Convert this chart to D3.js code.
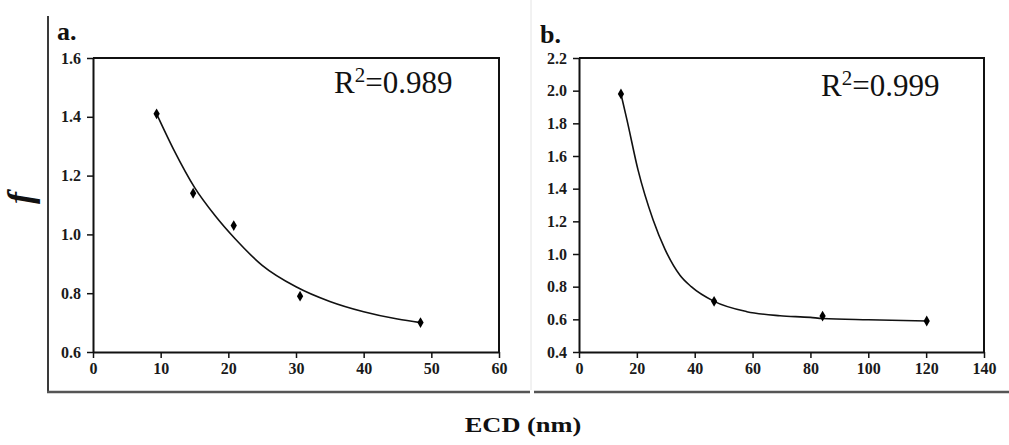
<!DOCTYPE html>
<html>
<head>
<meta charset="utf-8">
<script src="https://cdn.jsdelivr.net/npm/d3@7"></script>
<style>
  html, body { margin: 0; padding: 0; background: #fff; }
  svg { display: block; }
</style>
</head>
<body>
<svg id="chart" width="1009" height="445"></svg>
<script>
// ---- Data ----
const ecdA = [9.4, 14.8, 20.8, 30.6, 48.4];
const fA   = [1.41, 1.14, 1.03, 0.79, 0.70];
const fitAx = [9.4, 12, 15, 18, 21, 25, 30, 35, 40, 45, 48.4];
const fitAy = [1.41, 1.285, 1.16, 1.065, 0.985, 0.895, 0.822, 0.772, 0.737, 0.712, 0.70];
const r2A = "0.989";

const ecdB = [14.5, 46.7, 84.2, 120.2];
const fB   = [1.98, 0.71, 0.62, 0.59];
const fitBx = [14.5, 16.6, 20.4, 25.6, 29.7, 34.9, 38.8, 46.7, 58, 69.5, 80, 84.2, 100, 120.2];
const fitBy = [1.98, 1.82, 1.515, 1.21, 1.03, 0.87, 0.80, 0.71, 0.647, 0.622, 0.612, 0.605, 0.597, 0.59];
const r2B = "0.999";

const xTicksA = [0, 10, 20, 30, 40, 50, 60];
const yTicksA = [0.6, 0.8, 1.0, 1.2, 1.4, 1.6];
const xTicksB = [0, 20, 40, 60, 80, 100, 120, 140];
const yTicksB = [0.4, 0.6, 0.8, 1.0, 1.2, 1.4, 1.6, 1.8, 2.0, 2.2];

const panelLabels = ["a.", "b."];
const xTitle = "ECD (nm)";
const yTitle = "f";

// ---- Drawing ----
const svg = d3.select("#chart");
svg.append("rect").attr("width", 1009).attr("height", 445).attr("fill", "#fff");

const serif = '"Liberation Serif", "Times New Roman", serif';

// outer frame lines
svg.append("line").attr("x1", 531).attr("x2", 531).attr("y1", 0).attr("y2", 390)
  .attr("stroke", "#e4e4e4").attr("stroke-width", 1);
svg.append("line").attr("x1", 48).attr("x2", 48).attr("y1", 16).attr("y2", 393)
  .attr("stroke", "#3a3a3a").attr("stroke-width", 2);
svg.append("line").attr("x1", 47).attr("x2", 530).attr("y1", 392).attr("y2", 392)
  .attr("stroke", "#555").attr("stroke-width", 2.5);
svg.append("line").attr("x1", 534).attr("x2", 1009).attr("y1", 392).attr("y2", 392)
  .attr("stroke", "#555").attr("stroke-width", 2.5);

function panel(cfg) {
  const g = svg.append("g");
  const x = d3.scaleLinear().domain(cfg.xDomain).range([cfg.left, cfg.right]);
  const y = d3.scaleLinear().domain(cfg.yDomain).range([cfg.bottom, cfg.top]);

  // top and right border
  g.append("path")
    .attr("d", `M${cfg.left},${cfg.top}H${cfg.right}V${cfg.bottom}`)
    .attr("fill", "none").attr("stroke", "#111").attr("stroke-width", 2);

  const ya = g.append("g").attr("transform", `translate(${cfg.left},0)`)
    .call(d3.axisLeft(y).tickValues(cfg.yTicks).tickSize(6).tickSizeOuter(0).tickPadding(6)
      .tickFormat(d3.format(".1f")));
  const xa = g.append("g").attr("transform", `translate(0,${cfg.bottom})`)
    .call(d3.axisBottom(x).tickValues(cfg.xTicks).tickSize(6).tickSizeOuter(0).tickPadding(5)
      .tickFormat(d3.format("d")));
  [ya, xa].forEach(a => {
    a.attr("font-family", serif).attr("font-size", 16).attr("font-weight", "bold");
    a.select(".domain").attr("stroke", "#111").attr("stroke-width", 2);
    a.selectAll(".tick line").attr("stroke", "#111").attr("stroke-width", 1.5);
    a.selectAll(".tick text").attr("fill", "#1a1a1a")
      .attr("font-family", serif).attr("font-size", 16).attr("font-weight", "bold");
  });

  // fitted curve
  const pts = cfg.fitX.map((v, i) => [v, cfg.fitY[i]]);
  g.append("path")
    .attr("d", d3.line().x(d => x(d[0])).y(d => y(d[1])).curve(d3.curveMonotoneX)(pts))
    .attr("fill", "none").attr("stroke", "#111").attr("stroke-width", 1.6);

  // data points
  const sym = d3.symbol().type(d3.symbolDiamond).size(34);
  g.selectAll("path.pt").data(cfg.px.map((v, i) => [v, cfg.py[i]])).join("path")
    .attr("class", "pt")
    .attr("transform", d => `translate(${x(d[0])},${y(d[1])})`)
    .attr("d", sym).attr("fill", "#000");

  // R^2 text
  const t = g.append("text").attr("x", cfg.r2x).attr("y", cfg.r2y)
    .attr("font-family", serif).attr("font-size", 31).attr("fill", "#111");
  t.append("tspan").text("R");
  t.append("tspan").attr("font-size", 21).attr("dy", -11).text("2");
  t.append("tspan").attr("dy", 11).text("=" + cfg.r2);

  // panel label
  g.append("text").attr("x", cfg.labX).attr("y", cfg.labY)
    .attr("font-family", serif).attr("font-weight", "bold").attr("font-size", 26)
    .attr("fill", "#111").text(cfg.label);
}

panel({
  xDomain: [0, 60], yDomain: [0.6, 1.6], left: 93, right: 499, top: 58, bottom: 352,
  xTicks: xTicksA, yTicks: yTicksA, px: ecdA, py: fA, fitX: fitAx, fitY: fitAy,
  r2: r2A, r2x: 334, r2y: 93, label: panelLabels[0], labX: 57, labY: 40
});
panel({
  xDomain: [0, 140], yDomain: [0.4, 2.2], left: 579, right: 984, top: 58, bottom: 352,
  xTicks: xTicksB, yTicks: yTicksB, px: ecdB, py: fB, fitX: fitBx, fitY: fitBy,
  r2: r2B, r2x: 821, r2y: 96, label: panelLabels[1], labX: 540, labY: 43
});

// axis titles
svg.append("text").attr("transform", "translate(523,432) scale(1.2,1)")
  .attr("text-anchor", "middle").attr("font-family", serif).attr("font-weight", "bold")
  .attr("font-size", 22).attr("fill", "#111").text(xTitle);
svg.append("text").attr("transform", "translate(32,198) rotate(-90)")
  .attr("text-anchor", "middle").attr("font-family", serif).attr("font-weight", "bold")
  .attr("font-style", "italic").attr("font-size", 36).attr("fill", "#111").text(yTitle);
</script>
</body>
</html>
